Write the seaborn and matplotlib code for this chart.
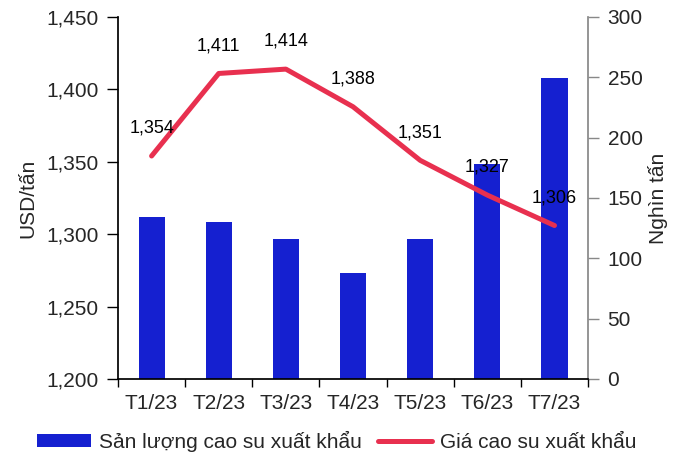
import matplotlib
matplotlib.use("Agg")
import matplotlib.pyplot as plt
import seaborn as sns
import numpy as np
import pandas as pd
from matplotlib.patches import Patch
from matplotlib.lines import Line2D

months = ["T1/23", "T2/23", "T3/23", "T4/23", "T5/23", "T6/23", "T7/23"]
volume = [134.5, 130.5, 115.8, 87.8, 115.8, 178.5, 249.2]   # nghìn tấn
price = [1354, 1411, 1414, 1388, 1351, 1327, 1306]          # USD/tấn
price_labels = ["1,354", "1,411", "1,414", "1,388", "1,351", "1,327", "1,306"]

sns.set_theme(style="white")
plt.rcParams["font.family"] = ["Liberation Sans", "DejaVu Sans"]

BLUE = "#1520D0"
RED = "#E8304F"

fig = plt.figure(figsize=(6.83, 4.59), dpi=100)
ax = fig.add_axes([0.1728, 0.1743, 0.861 - 0.1728, 0.963 - 0.1743])
ax2 = ax.twinx()

df = pd.DataFrame({"month": months, "volume": volume, "price": price})
df["pos"] = np.arange(len(months))

sns.barplot(data=df, x="month", y="volume", color=BLUE, saturation=1,
            width=0.39, ax=ax2, linewidth=0)
sns.lineplot(data=df, x="pos", y="price", color=RED, linewidth=3.6, ax=ax,
             solid_capstyle="round")

ax.set_zorder(ax2.get_zorder() + 1)
ax.patch.set_visible(False)

for i, (p, lab) in enumerate(zip(price, price_labels)):
    ax.annotate(lab, (i, p), xytext=(0, 20), textcoords="offset points",
                ha="center", va="center", fontsize=13, color="black")

ax.set_xlim(-0.5, len(months) - 0.5)
ax.set_ylim(1200, 1450)
ax.set_yticks([1200, 1250, 1300, 1350, 1400, 1450])
ax.set_yticklabels([f"{v:,}" for v in [1200, 1250, 1300, 1350, 1400, 1450]])
ax2.set_ylim(0, 300)
ax2.set_yticks([0, 50, 100, 150, 200, 250, 300])

ax.set_xticks(np.arange(-0.5, len(months), 1))
ax.set_xticklabels([])
ax.set_xticks(np.arange(len(months)), minor=True)
ax.set_xticklabels(months, minor=True)
ax.tick_params(axis="x", which="major", direction="out", length=6, width=1,
               color="black", bottom=True)
ax.tick_params(axis="x", which="minor", length=0, pad=11, labelsize=15)
ax.tick_params(axis="y", direction="out", length=8, width=1, color="black",
               left=True, pad=6, labelsize=15)
ax2.tick_params(axis="y", direction="out", length=8, width=1, color="#888888",
                right=True, pad=6, labelsize=15)

ax.set_xlabel("")
ax2.set_xlabel("")
ax.set_ylabel("USD/tấn", fontsize=15, labelpad=6)
ax2.set_ylabel("Nghìn tấn", fontsize=15, labelpad=4)

for a in (ax, ax2):
    a.spines["top"].set_visible(False)
ax.spines["left"].set_color("black")
ax.spines["bottom"].set_color("black")
ax.spines["right"].set_visible(False)
ax2.spines["left"].set_visible(False)
ax2.spines["bottom"].set_visible(False)
ax2.spines["right"].set_color("#888888")
ax2.spines["right"].set_visible(True)

handles = [Patch(facecolor=BLUE, edgecolor="none"),
           Line2D([0], [0], color=RED, linewidth=3.6)]
fig.legend(handles, ["Sản lượng cao su xuất khẩu", "Giá cao su xuất khẩu"],
           loc="lower center", bbox_to_anchor=(0.493, -0.025), ncol=2,
           frameon=False, fontsize=15, handlelength=2.6, handleheight=0.6,
           handletextpad=0.35, columnspacing=0.8)

fig.savefig("out.png", dpi=100)
